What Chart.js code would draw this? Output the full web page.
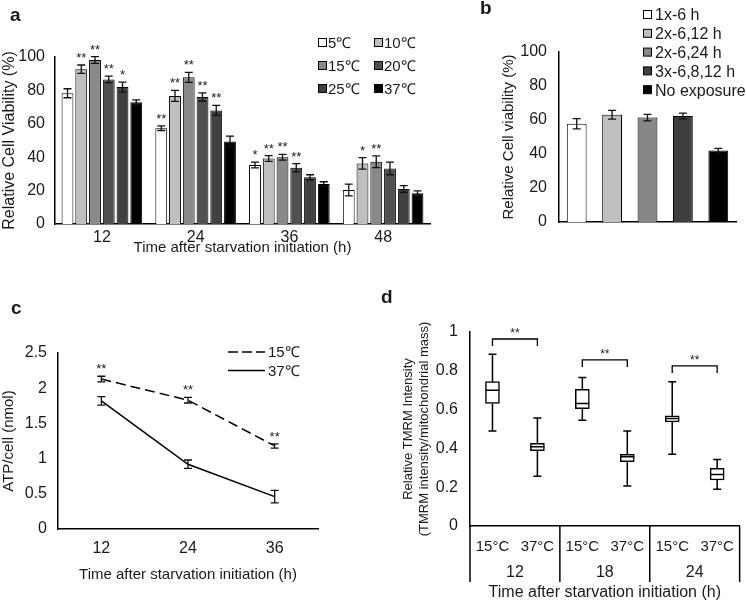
<!DOCTYPE html>
<html>
<head>
<meta charset="utf-8">
<script src="https://cdn.jsdelivr.net/npm/chart.js@4.4.0/dist/chart.umd.min.js"></script>
<style>
  body { margin: 0; background: #fff; width: 746px; height: 603px; position: relative; overflow: hidden;
         font-family: "Liberation Sans", Arial, sans-serif; color: #1a1a1a; }
  canvas { position: absolute; left: 0; top: 0; }
  .tag { position: absolute; font-weight: bold; font-size: 19px; line-height: 20px; }
</style>
</head>
<body>
<canvas id="ca" width="746" height="603"></canvas>
<canvas id="cb" width="746" height="603"></canvas>
<canvas id="cc" width="746" height="603"></canvas>
<canvas id="cd" width="746" height="603"></canvas>
<div class="tag" style="left:10px;top:5px">a</div>
<div class="tag" style="left:480px;top:-2px">b</div>
<div class="tag" style="left:11px;top:298px">c</div>
<div class="tag" style="left:381px;top:287px">d</div>
<script>
// ---- panel a: viability vs temperature
var timesA = ['12', '24', '36', '48'];
var tempsA = ['5℃', '10℃', '15℃', '20℃', '25℃', '37℃'];
var viab5 = [78.3, 57.4, 35.3, 20.4];
var viab10 = [92.7, 76.7, 39.2, 36.3];
var viab15 = [98.2, 87.8, 40, 37.3];
var viab20 = [86.6, 76, 33.7, 33.3];
var viab25 = [82, 68, 28, 21];
var viab37 = [72.9, 49.4, 24, 18.4];
var err5 = [2.7, 1.4, 1.7, 3.5];
var err10 = [2.5, 3.3, 1.7, 3.4];
var err15 = [2, 3, 1.7, 3.5];
var err20 = [2, 2.5, 2.5, 3.8];
var err25 = [3, 3, 1.5, 2];
var err37 = [1.4, 3.2, 1.3, 1.4];
var sig5 = ['', '**', '*', ''];
var sig10 = ['**', '**', '**', '*'];
var sig15 = ['**', '**', '**', '**'];
var sig20 = ['**', '**', '**', ''];
var sig25 = ['*', '**', '', ''];
var sig37 = ['', '', '', ''];

// ---- panel b: repeated exposure
var expoB = ['1x-6 h', '2x-6,12 h', '2x-6,24 h', '3x-6,8,12 h', 'No exposure'];
var viabB = [57.8, 63.1, 61.4, 62.4, 42];
var errB = [3, 2.6, 1.9, 1.7, 1.3];

// ---- panel c: ATP
var timesC = ['12', '24', '36'];
var atp15 = [2.13, 1.83, 1.18];
var atp37 = [1.82, 0.92, 0.46];
var atpErr15 = [0.04, 0.04, 0.03];
var atpErr37 = [0.06, 0.06, 0.09];
var sigC = ['**', '**', '**'];

// ---- panel d: TMRM box plots  [min, q1, median, q3, max]
var timesD = ['12', '18', '24'];
var condD = ['15°C', '37°C'];
var tmrm = [
  [0.49, 0.632, 0.70, 0.744, 0.885],
  [0.257, 0.388, 0.408, 0.426, 0.557],
  [0.545, 0.605, 0.631, 0.705, 0.765],
  [0.206, 0.331, 0.357, 0.37, 0.49],
  [0.37, 0.537, 0.554, 0.568, 0.743],
  [0.19, 0.237, 0.266, 0.297, 0.343]
];
var bracketD = [0.964, 0.856, 0.825];

var TXT = '#1a1a1a';
Chart.defaults.font.family = '"Liberation Sans", Arial, sans-serif';
Chart.defaults.color = TXT;
Chart.defaults.animation = false;
Chart.defaults.responsive = false;
Chart.defaults.plugins.legend.display = false;
Chart.defaults.plugins.tooltip.enabled = false;

function fixW(w) { return function (s) { s.width = w; }; }
function fixH(h) { return function (s) { s.height = h; }; }
function plainNum(v) { return String(+v.toFixed(2)); }
var noGrid = { display: false, drawTicks: false };
var axisLine = { color: '#000', width: 1.5 };

// error bars + asterisks
var errorBars = {
  id: 'errorBars',
  afterDatasetsDraw: function (chart, args, o) {
    if (!o.errors) return;
    var ctx = chart.ctx, y = chart.scales.y;
    ctx.save();
    chart.data.datasets.forEach(function (ds, i) {
      chart.getDatasetMeta(i).data.forEach(function (el, j) {
        var v = ds.data[j], e = o.errors[i][j];
        var top = y.getPixelForValue(v + e), bot = y.getPixelForValue(v - e);
        ctx.strokeStyle = '#111';
        ctx.lineWidth = 1.3;
        ctx.beginPath();
        ctx.moveTo(el.x, top); ctx.lineTo(el.x, bot);
        ctx.moveTo(el.x - o.cap, top); ctx.lineTo(el.x + o.cap, top);
        ctx.moveTo(el.x - o.cap, bot); ctx.lineTo(el.x + o.cap, bot);
        ctx.stroke();
        var s = o.stars && o.stars[i] && o.stars[i][j];
        if (s) {
          ctx.fillStyle = TXT;
          ctx.font = '13px "Liberation Sans", Arial';
          ctx.textAlign = 'center';
          ctx.textBaseline = 'alphabetic';
          ctx.fillText(s, el.x, top - 3);
        }
      });
    });
    ctx.restore();
  }
};

// hand placed legends (grid of boxes or line samples)
var sideLegend = {
  id: 'sideLegend',
  afterDraw: function (chart, args, o) {
    if (!o.items) return;
    var ctx = chart.ctx;
    ctx.save();
    ctx.font = o.font;
    ctx.textBaseline = 'middle';
    ctx.textAlign = 'left';
    o.items.forEach(function (it, k) {
      var x = o.x + (k % o.cols) * (o.colW || 0);
      var y = o.y + Math.floor(k / o.cols) * o.rowH;
      ctx.strokeStyle = '#000';
      if (it.line) {
        ctx.lineWidth = 1.5;
        ctx.setLineDash(it.dash || []);
        ctx.beginPath(); ctx.moveTo(x, y); ctx.lineTo(x + o.lineLen, y); ctx.stroke();
        ctx.setLineDash([]);
      } else {
        ctx.lineWidth = 1;
        ctx.fillStyle = it.fill;
        ctx.fillRect(x + 0.5, y - 4.5, 8, 8);
        ctx.strokeRect(x + 0.5, y - 4.5, 8, 8);
      }
      ctx.fillStyle = TXT;
      ctx.fillText(it.text, x + o.textDx, y + 1);
    });
    ctx.restore();
  }
};

// whiskers, medians, brackets, two-level category labels for panel d
var boxExtras = {
  id: 'boxExtras',
  afterDatasetsDraw: function (chart, args, o) {
    if (!o.stats) return;
    var ctx = chart.ctx, x = chart.scales.x, y = chart.scales.y, area = chart.chartArea;
    var els = chart.getDatasetMeta(0).data;
    ctx.save();
    ctx.strokeStyle = '#000';
    ctx.lineWidth = 1.5;
    o.stats.forEach(function (st, i) {
      var cx = els[i].x, hw = els[i].width / 2, cap = 4;
      var pMin = y.getPixelForValue(st[0]), pQ1 = y.getPixelForValue(st[1]);
      var pMed = y.getPixelForValue(st[2]), pQ3 = y.getPixelForValue(st[3]);
      var pMax = y.getPixelForValue(st[4]);
      ctx.beginPath();
      ctx.moveTo(cx, pQ3); ctx.lineTo(cx, pMax);
      ctx.moveTo(cx - cap, pMax); ctx.lineTo(cx + cap, pMax);
      ctx.moveTo(cx, pQ1); ctx.lineTo(cx, pMin);
      ctx.moveTo(cx - cap, pMin); ctx.lineTo(cx + cap, pMin);
      ctx.moveTo(cx - hw, pMed); ctx.lineTo(cx + hw, pMed);
      ctx.stroke();
    });
    // significance brackets
    ctx.lineWidth = 1.3;
    o.brackets.forEach(function (h, g) {
      var x1 = els[g * 2].x, x2 = els[g * 2 + 1].x, py = y.getPixelForValue(h);
      ctx.beginPath();
      ctx.moveTo(x1, py + 7); ctx.lineTo(x1, py); ctx.lineTo(x2, py); ctx.lineTo(x2, py + 7);
      ctx.stroke();
      ctx.fillStyle = TXT;
      ctx.font = '12px "Liberation Sans", Arial';
      ctx.textAlign = 'center';
      ctx.textBaseline = 'alphabetic';
      ctx.fillText('**', (x1 + x2) / 2, py - 2);
    });
    // group dividers and group labels below the axis
    ctx.lineWidth = 1.5;
    var n = o.groups.length, per = o.per;
    for (var g = 0; g <= n; g++) {
      var px = x.getPixelForValue(g * per - 0.5);
      ctx.beginPath(); ctx.moveTo(px, area.bottom); ctx.lineTo(px, area.bottom + 56); ctx.stroke();
    }
    ctx.font = '16px "Liberation Sans", Arial';
    ctx.textAlign = 'center';
    ctx.textBaseline = 'middle';
    o.groups.forEach(function (lab, g) {
      var mid = x.getPixelForValue(g * per + (per - 1) / 2);
      ctx.fillText(lab, mid, area.bottom + 47);
    });
    ctx.restore();
  }
};

Chart.register(errorBars, sideLegend, boxExtras);

// ---------- a
var colorsA = ['#ffffff', '#bfbfbf', '#898989', '#505050', '#404040', '#000000'];
var valsA = [viab5, viab10, viab15, viab20, viab25, viab37];
new Chart(document.getElementById('ca'), {
  type: 'bar',
  data: {
    labels: timesA,
    datasets: tempsA.map(function (t, i) {
      return { label: t, data: valsA[i], backgroundColor: colorsA[i], borderColor: '#000', borderWidth: 1,
               categoryPercentage: 0.88, barPercentage: 0.86 };
    })
  },
  options: {
    layout: { padding: { left: 0, top: 57, right: 316, bottom: 346 } },
    plugins: {
      errorBars: { errors: [err5, err10, err15, err20, err25, err37], stars: [sig5, sig10, sig15, sig20, sig25, sig37], cap: 4 },
      sideLegend: { x: 318, y: 43, rowH: 23, cols: 2, colW: 56, textDx: 10, font: '15px "Liberation Sans", Arial',
                    items: tempsA.map(function (t, i) { return { text: t, fill: colorsA[i] }; }) }
    },
    scales: {
      x: { grid: noGrid, border: axisLine, ticks: { font: { size: 16 }, padding: 4 },
           title: { display: true, text: 'Time after starvation initiation (h)', font: { size: 15 }, padding: 0 },
           afterFit: fixH(33) },
      y: { min: 0, max: 100, grid: noGrid, border: axisLine, ticks: { stepSize: 20, font: { size: 16 }, padding: 10 },
           title: { display: true, text: 'Relative Cell Viability (%)', font: { size: 16 }, padding: 0 },
           afterFit: fixW(55) }
    }
  }
});

// ---------- b
var colorsB = ['#ffffff', '#bfbfbf', '#878787', '#3f3f3f', '#000000'];
new Chart(document.getElementById('cb'), {
  type: 'bar',
  data: {
    labels: expoB,
    datasets: [{ data: viabB, backgroundColor: colorsB, borderColor: '#000', borderWidth: 1,
                 categoryPercentage: 0.8, barPercentage: 0.7 }]
  },
  options: {
    layout: { padding: { left: 500, top: 52, right: 10, bottom: 381 } },
    plugins: {
      errorBars: { errors: [errB], cap: 4 },
      sideLegend: { x: 643, y: 15, rowH: 18.8, cols: 1, textDx: 12, font: '16px "Liberation Sans", Arial',
                    items: expoB.map(function (t, i) { return { text: t, fill: colorsB[i] }; }) }
    },
    scales: {
      x: { grid: noGrid, border: axisLine, ticks: { display: false }, afterFit: fixH(0) },
      y: { min: 0, max: 100, grid: noGrid, border: axisLine, ticks: { stepSize: 20, font: { size: 16 }, padding: 12 },
           title: { display: true, text: 'Relative Cell viability (%)', font: { size: 15 }, padding: 0 },
           afterFit: fixW(59) }
    }
  }
});

// ---------- c
new Chart(document.getElementById('cc'), {
  type: 'line',
  data: {
    labels: timesC,
    datasets: [
      { label: '15℃', data: atp15, borderColor: '#000', borderWidth: 1.5, borderDash: [10, 5], pointRadius: 0, fill: false },
      { label: '37℃', data: atp37, borderColor: '#000', borderWidth: 1.5, pointRadius: 0, fill: false }
    ]
  },
  options: {
    layout: { padding: { left: 0, top: 353, right: 428, bottom: 19 } },
    plugins: {
      errorBars: { errors: [atpErr15, atpErr37], stars: [sigC, []], cap: 4 },
      sideLegend: { x: 228, y: 352, rowH: 18.5, cols: 1, lineLen: 37, textDx: 40, font: '15px "Liberation Sans", Arial',
                    items: [{ text: '15℃', line: true, dash: [10, 4] }, { text: '37℃', line: true }] }
    },
    scales: {
      x: { offset: true, grid: noGrid, border: axisLine, ticks: { font: { size: 16 }, padding: 10 },
           title: { display: true, text: 'Time after starvation initiation (h)', font: { size: 15 }, padding: 0 },
           afterFit: fixH(55) },
      y: { min: 0, max: 2.5, grid: noGrid, border: axisLine,
           ticks: { stepSize: 0.5, font: { size: 16 }, padding: 11, callback: plainNum },
           title: { display: true, text: 'ATP/cell (nmol)', font: { size: 15 }, padding: 0 },
           afterFit: fixW(58) }
    }
  }
});

// ---------- d
var catsD = [];
timesD.forEach(function () { condD.forEach(function (c) { catsD.push(c); }); });
new Chart(document.getElementById('cd'), {
  type: 'bar',
  data: {
    labels: catsD,
    datasets: [{ data: tmrm.map(function (s) { return [s[1], s[3]]; }), backgroundColor: '#fff', borderColor: '#000',
                 borderWidth: 1.5, borderSkipped: false, barThickness: 14 }]
  },
  options: {
    layout: { padding: { left: 401, top: 332, right: 1, bottom: 1 } },
    plugins: {
      boxExtras: { stats: tmrm, brackets: bracketD, groups: timesD, per: condD.length }
    },
    scales: {
      x: { grid: noGrid, border: axisLine, ticks: { font: { size: 15 }, padding: 12 },
           title: { display: true, text: 'Time after starvation initiation (h)', font: { size: 16 }, padding: 0 },
           afterFit: fixH(76) },
      y: { min: 0, max: 1, grid: noGrid, border: axisLine,
           ticks: { stepSize: 0.2, font: { size: 16 }, padding: 12, callback: plainNum },
           title: { display: true, text: ['Relative TMRM Intensity', '(TMRM intensity/mitochondrial mass)'], font: { size: 13 }, padding: 0 },
           afterFit: fixW(69) }
    }
  }
});
</script>
</body>
</html>
